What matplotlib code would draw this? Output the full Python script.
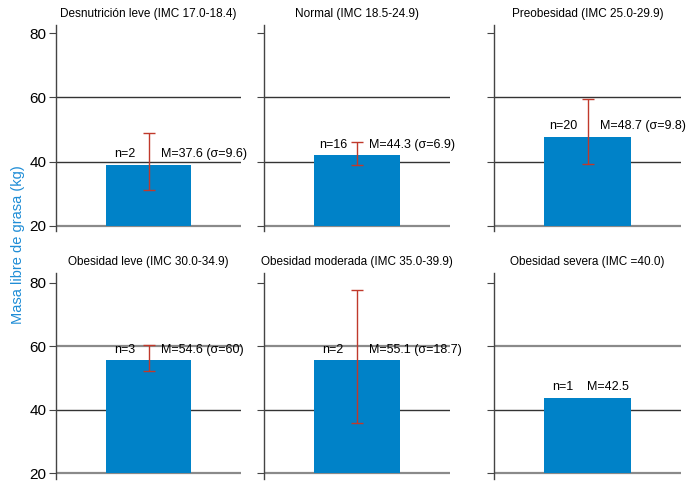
# Masa libre de grasa por categoría de IMC: 2x3 paneles de barras con error
import matplotlib
matplotlib.use("Agg")
import matplotlib.pyplot as plt

plt.rcParams['font.family'] = ['Liberation Sans', 'DejaVu Sans']

# Data
titles = ['Desnutrición leve (IMC 17.0-18.4)', 'Normal (IMC 18.5-24.9)',
          'Preobesidad (IMC 25.0-29.9)', 'Obesidad leve (IMC 30.0-34.9)',
          'Obesidad moderada (IMC 35.0-39.9)', 'Obesidad severa (IMC =40.0)']
bar_vals = [39.0, 41.9, 47.8, 55.5, 55.5, 43.8]
err_low = [31.2, 39.0, 39.3, 52.3, 35.9, None]
err_high = [49.0, 46.1, 59.5, 60.5, 77.7, None]
n_labels = ['n=2', 'n=16', 'n=20', 'n=3', 'n=2', 'n=1']
m_labels = ['M=37.6 (σ=9.6)', 'M=44.3 (σ=6.9)', 'M=48.7 (σ=9.8)',
            'M=54.6 (σ=60)', 'M=55.1 (σ=18.7)', 'M=42.5']
yticks = [20, 40, 60, 80]
base = 20

bar_color = '#0082c8'
err_color = '#c0392b'
W, H = 700, 490

fig = plt.figure(figsize=(7, 4.9), dpi=100)

# axes boxes in pixels: left, right / top, bottom + y-limits
col_x = [(56, 241), (264, 450), (494, 681)]
row_y = [(25, 231, 18.4, 82.5), (273, 479, 18.2, 83.0)]

for i in range(6):
    r, c = divmod(i, 3)
    x0, x1 = col_x[c]
    y0, y1, ylo, yhi = row_y[r]
    ax = fig.add_axes([x0 / W, 1 - y1 / H, (x1 - x0) / W, (y1 - y0) / H])
    ax.set_xlim(0, 1)
    ax.set_ylim(ylo, yhi)

    for g in yticks[:-1]:
        light = g == 20 or (g == 60 and r == 1)
        col = '#8a8a8a' if light else '#333333'
        lw = 1.6 if light else 1.0
        ax.axhline(g, color=col, lw=lw, zorder=1)

    ax.bar([0.5], [bar_vals[i] - base], width=0.46, bottom=base,
           color=bar_color, zorder=2)
    if err_low[i] is not None:
        mid = (err_low[i] + err_high[i]) / 2
        half = (err_high[i] - err_low[i]) / 2
        ax.errorbar([0.5], [mid], yerr=[[half], [half]], fmt='none',
                    ecolor=err_color, elinewidth=1.0, capsize=4, capthick=1.0,
                    zorder=3)
        mx = 0.565
    else:
        mx = 0.5

    ax.text(0.37, bar_vals[i] + 1.4, n_labels[i], ha='center', va='bottom',
            fontsize=9, zorder=4)
    ax.text(mx, bar_vals[i] + 1.4, m_labels[i], ha='left', va='bottom',
            fontsize=9, zorder=4)

    ax.set_title(titles[i], fontsize=8.5, pad=6)
    for s in ['top', 'right', 'bottom']:
        ax.spines[s].set_visible(False)
    ax.spines['left'].set_color('#444444')
    ax.spines['left'].set_linewidth(1.0)
    ax.set_xticks([])
    ax.set_yticks(yticks)
    ax.tick_params(axis='y', length=5, color='#444444', labelsize=11, pad=2)
    if c != 0:
        ax.set_yticklabels([])

fig.text(18 / W, 0.5, 'Masa libre de grasa (kg)', rotation=90, color='#1f8dd6',
         fontsize=10.5, ha='center', va='center')

plt.savefig('out.png', dpi=100)
plt.close()
